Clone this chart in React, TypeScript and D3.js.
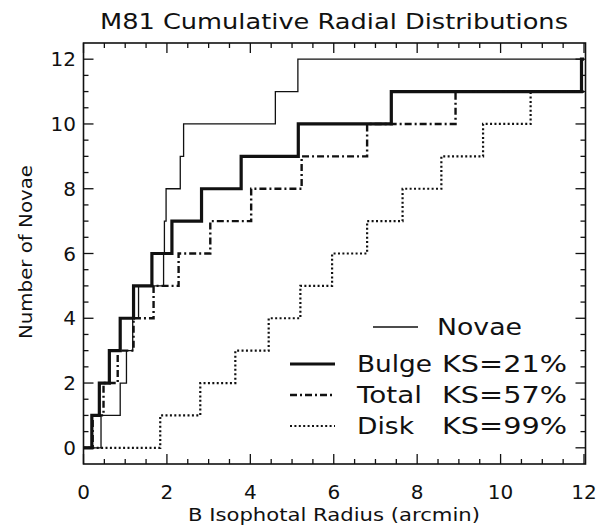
import { useEffect, useRef } from 'react'
import * as d3 from 'd3'

// radii (arcmin) at which each cumulative curve steps up by one nova
const novaeSteps = [0.42, 0.88, 1.03, 1.18, 1.32, 1.92, 1.94, 1.98, 2.32, 2.4, 4.6, 5.14]
const bulgeSteps = [0.2, 0.38, 0.62, 0.88, 1.2, 1.64, 2.12, 2.83, 3.78, 5.15, 7.38, 11.94]
const totalSteps = [0.22, 0.48, 0.82, 1.2, 1.68, 2.28, 3.04, 4.02, 5.23, 6.8, 8.92]
const diskSteps = [1.84, 2.8, 3.64, 4.44, 5.2, 5.96, 6.8, 7.65, 8.58, 9.58, 10.72]

const xTicks = [0, 2, 4, 6, 8, 10, 12]
const yTicks = [0, 2, 4, 6, 8, 10, 12]

const legendRows = [
  { name: 'Novae', ks: '' },
  { name: 'Bulge', ks: 'KS=21%' },
  { name: 'Total', ks: 'KS=57%' },
  { name: 'Disk', ks: 'KS=99%' },
]

const INK = '#111'
const FONT = '"DejaVu Sans", sans-serif'

// line styles per series
const STYLES = [
  { width: 1.3, dash: null },
  { width: 3.2, dash: null },
  { width: 2.4, dash: '7,3,2,3' },
  { width: 2.2, dash: '2,2.4' },
]

function toPoints(steps: number[]): [number, number][] {
  const pts: [number, number][] = [[0, 0]]
  steps.forEach((s, i) => pts.push([s, i + 1]))
  pts.push([12, steps.length])
  return pts
}

export default function App() {
  const svgRef = useRef<SVGSVGElement>(null)

  useEffect(() => {
    document.body.style.margin = '0'
    if (!svgRef.current) return
    const svg = d3.select(svgRef.current)
    svg.selectAll('*').remove()

    const left = 83.5, right = 584, top = 43, bottom = 464
    const x = d3.scaleLinear().domain([0, 12]).range([left, right])
    const y = d3.scaleLinear().domain([-0.5, 12.5]).range([bottom, top])

    const txt = (sel: d3.Selection<SVGTextElement, any, any, any>, size: number) =>
      sel.attr('font-family', FONT).attr('font-size', size).attr('fill', INK)

    // title
    txt(svg.append('text'), 21)
      .attr('x', 334).attr('y', 29)
      .attr('text-anchor', 'middle')
      .attr('textLength', 468).attr('lengthAdjust', 'spacingAndGlyphs')
      .text('M81 Cumulative Radial Distributions')

    // curves
    const line = d3.line<[number, number]>()
      .x(d => x(d[0]))
      .y(d => y(d[1]))
      .curve(d3.curveStepAfter)

    const series = [novaeSteps, bulgeSteps, totalSteps, diskSteps]
    series.forEach((steps, i) => {
      const st = STYLES[i]
      const p = svg.append('path')
        .attr('d', line(toPoints(steps)))
        .attr('fill', 'none')
        .attr('stroke', INK)
        .attr('stroke-width', st.width)
      if (st.dash) p.attr('stroke-dasharray', st.dash)
    })

    // frame
    svg.append('rect')
      .attr('x', left).attr('y', top)
      .attr('width', right - left + 1.5).attr('height', bottom - top)
      .attr('fill', 'none').attr('stroke', INK).attr('stroke-width', 1.6)

    const ticks = svg.append('g').attr('stroke', INK).attr('stroke-width', 1.3)
    d3.range(0, 12.01, 0.5).forEach(v => {
      const len = v % 2 === 0 ? 10 : 5
      ticks.append('line').attr('x1', x(v)).attr('x2', x(v)).attr('y1', bottom).attr('y2', bottom - len)
      ticks.append('line').attr('x1', x(v)).attr('x2', x(v)).attr('y1', top).attr('y2', top + len)
    })
    d3.range(0, 12.01, 0.5).forEach(v => {
      const len = v % 2 === 0 ? 10 : 5
      ticks.append('line').attr('x1', left).attr('x2', left + len).attr('y1', y(v)).attr('y2', y(v))
      ticks.append('line').attr('x1', right + 1.5).attr('x2', right + 1.5 - len).attr('y1', y(v)).attr('y2', y(v))
    })

    // tick labels
    txt(svg.append('g')
      .selectAll('text')
      .data(xTicks)
      .join('text'), 20)
      .attr('x', d => x(d)).attr('y', 499)
      .attr('text-anchor', 'middle')
      .text(d => d)

    txt(svg.append('g')
      .selectAll('text')
      .data(yTicks)
      .join('text'), 20)
      .attr('x', 76).attr('y', d => y(d) + 7)
      .attr('text-anchor', 'end')
      .text(d => d)

    // axis titles
    txt(svg.append('text'), 18)
      .attr('x', 334).attr('y', 521)
      .attr('text-anchor', 'middle')
      .attr('textLength', 292).attr('lengthAdjust', 'spacingAndGlyphs')
      .text('B Isophotal Radius (arcmin)')

    txt(svg.append('text'), 18)
      .attr('transform', 'translate(32,252) rotate(-90)')
      .attr('text-anchor', 'middle')
      .attr('textLength', 174).attr('lengthAdjust', 'spacingAndGlyphs')
      .text('Number of Novae')

    // legend
    const rowY = [327, 364, 395, 426]
    const nameWidths = [85, 75, 65, 57]
    const legend = svg.append('g')
    legendRows.forEach((r, i) => {
      const st = STYLES[i]
      const x1 = i === 0 ? 373 : 290
      const l = legend.append('line')
        .attr('x1', x1).attr('x2', x1 + 45)
        .attr('y1', rowY[i]).attr('y2', rowY[i])
        .attr('stroke', INK).attr('stroke-width', st.width)
      if (st.dash) l.attr('stroke-dasharray', st.dash)

      txt(legend.append('text'), 23)
        .attr('x', i === 0 ? 437 : 357).attr('y', rowY[i] + 8)
        .attr('textLength', nameWidths[i]).attr('lengthAdjust', 'spacingAndGlyphs')
        .text(r.name)
      if (r.ks) {
        txt(legend.append('text'), 23)
          .attr('x', 442).attr('y', rowY[i] + 8)
          .attr('textLength', 125).attr('lengthAdjust', 'spacingAndGlyphs')
          .text(r.ks)
      }
    })
  }, [])

  return (
    <svg
      ref={svgRef}
      width={604}
      height={526}
      style={{ display: 'block', background: '#fff' }}
    />
  )
}
